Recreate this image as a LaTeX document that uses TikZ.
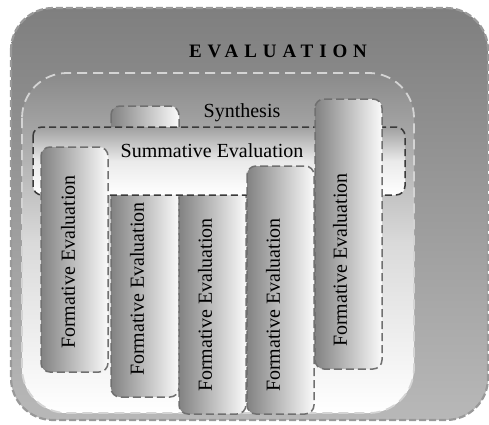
\documentclass[tikz,border=0pt]{standalone}
\usepackage{fontspec}
\setmainfont{Liberation Serif}
\definecolor{outtop}{HTML}{7F7F7F}
\definecolor{outbot}{HTML}{B8B8B8}
\definecolor{outline}{HTML}{999999}
\definecolor{intop}{HTML}{8A8A8A}
\definecolor{inmid}{HTML}{DADADA}
\definecolor{innerline}{HTML}{D4D4D4}
\definecolor{sumtop}{HTML}{A0A0A0}
\definecolor{summid}{HTML}{EAEAEA}
\definecolor{sumline}{HTML}{3A3A3A}
\definecolor{colleft}{HTML}{828282}
\definecolor{colright}{HTML}{FAFAFA}
\definecolor{colline}{HTML}{707070}
\begin{document}
\begin{tikzpicture}[x=1pt,y=-1pt,
  outerbox/.style={draw=outline, line width=2.2pt, dash pattern=on 7pt off 3pt, rounded corners=42pt, top color=outtop, bottom color=outbot},
  innerbox/.style={draw=innerline, line width=1.8pt, dash pattern=on 10pt off 6pt, rounded corners=45pt, top color=intop, bottom color=white, middle color=inmid},
  sumbox/.style={draw=sumline, line width=1.5pt, dash pattern=on 7pt off 4pt, rounded corners=9pt, top color=sumtop, bottom color=white, middle color=summid},
  colbox/.style={draw=colline, line width=1.5pt, dash pattern=on 8pt off 4pt, rounded corners=9pt, left color=colleft, right color=colright},
  lbl/.style={font=\fontsize{20}{24}\selectfont, inner sep=0pt},
  vlbl/.style={lbl, rotate=90}]
\useasboundingbox (0,0) rectangle (489,424);
\path[outerbox] (11,8) rectangle (488,420);
\path[innerbox] (22,73) rectangle (414,413);
\path[colbox] (111,106) rectangle (179,397);
\path[colbox] (179,140) rectangle (246,414);
\path[sumbox] (33,127) rectangle (405,195);
\path[colbox] (41,147) rectangle (108,372);
\path[colbox] (247,166) rectangle (314,414);
\path[colbox] (315,99) rectangle (382,369);
\node[inner sep=0pt, font=\fontsize{19}{22}\selectfont\bfseries\addfontfeature{LetterSpace=31}] (title) at (278,51) {EVALUATION};
\node[lbl] (syn) at (242,113) {Synthesis};
\node[lbl] (sum) at (212,151) {Summative Evaluation};
\node[vlbl] (f1) at (68,262) {Formative Evaluation};
\node[vlbl] (f2) at (137,289) {Formative Evaluation};
\node[vlbl] (f3) at (205,305) {Formative Evaluation};
\node[vlbl] (f4) at (273,305) {Formative Evaluation};
\node[vlbl] (f5) at (340,260) {Formative Evaluation};
\end{tikzpicture}
\end{document}
